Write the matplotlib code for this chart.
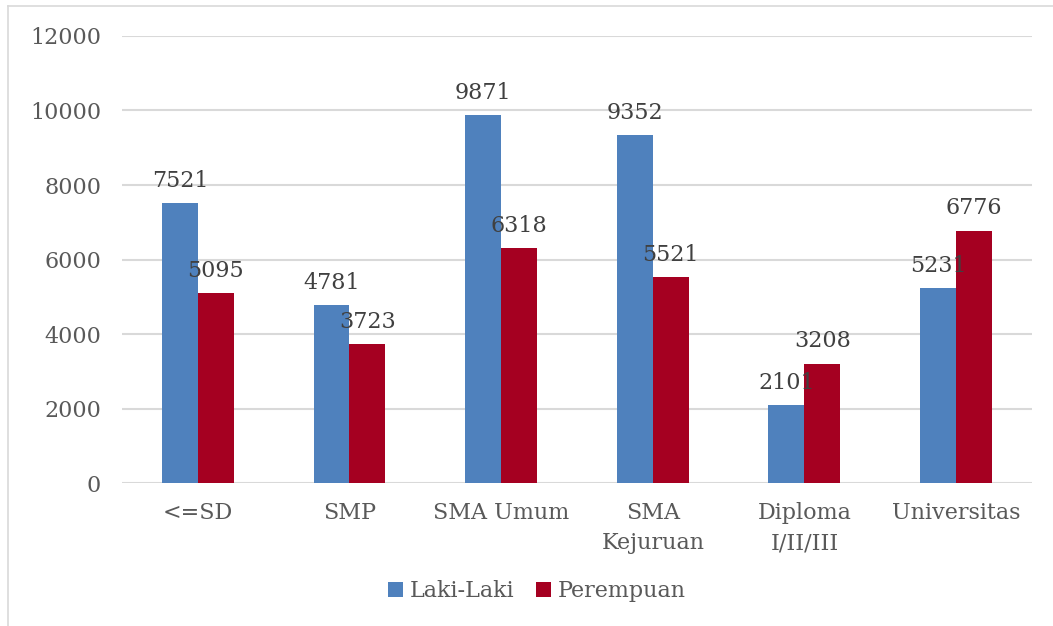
import matplotlib.pyplot as plt
from matplotlib.lines import Line2D
import numpy as np

categories = ["<=SD", "SMP", "SMA Umum", "SMA\nKejuruan", "Diploma\nI/II/III", "Universitas"]
laki = [7521, 4781, 9871, 9352, 2101, 5231]
perempuan = [5095, 3723, 6318, 5521, 3208, 6776]
yticks = [0, 2000, 4000, 6000, 8000, 10000, 12000]

blue = "#4f81bd"
red = "#a50021"
grid = "#d9d9d9"
txt = "#595959"

plt.rcParams["font.family"] = ["DejaVu Serif"]

fig = plt.figure(figsize=(10.53, 6.26), dpi=100)
ax = fig.add_axes([0.1159, 0.2284, 0.864, 0.7141])

# panel frame
fig.add_artist(Line2D([8/1053, 8/1053], [0, 1 - 6/626], color=grid, lw=1.2))
fig.add_artist(Line2D([8/1053, 1], [1 - 6/626, 1 - 6/626], color=grid, lw=1.2))

x = np.arange(len(categories))
w = 0.237
b1 = ax.bar(x - w/2, laki, w, color=blue, label="Laki-Laki", zorder=3)
b2 = ax.bar(x + w/2, perempuan, w, color=red, label="Perempuan", zorder=3)

for bars in (b1, b2):
    for r in bars:
        ax.annotate(f"{int(r.get_height())}", (r.get_x() + r.get_width()/2, r.get_height()),
                    xytext=(0, 8), textcoords="offset points", ha="center", va="bottom",
                    fontsize=16, color="#404040", zorder=4)

ax.set_xlim(-0.5, len(categories) - 0.5)
ax.set_ylim(0, 12000)
ax.set_yticks(yticks)
ax.set_xticks(x)
ax.set_xticklabels(categories, linespacing=1.45)
ax.yaxis.grid(True, color=grid, lw=1.5, zorder=0)
ax.tick_params(axis="x", length=0, labelsize=16, colors=txt, pad=14)
ax.tick_params(axis="y", length=0, labelsize=16, colors=txt, pad=15)
for s in ax.spines.values():
    s.set_visible(False)

fig.legend(handles=[b1, b2], loc="center", bbox_to_anchor=(0.51, 1 - 591/626), ncol=2,
           frameon=False, fontsize=16, labelcolor=txt, handlelength=0.65, handleheight=0.65,
           handletextpad=0.3, columnspacing=1.0)

fig.savefig("out.png", dpi=100)
